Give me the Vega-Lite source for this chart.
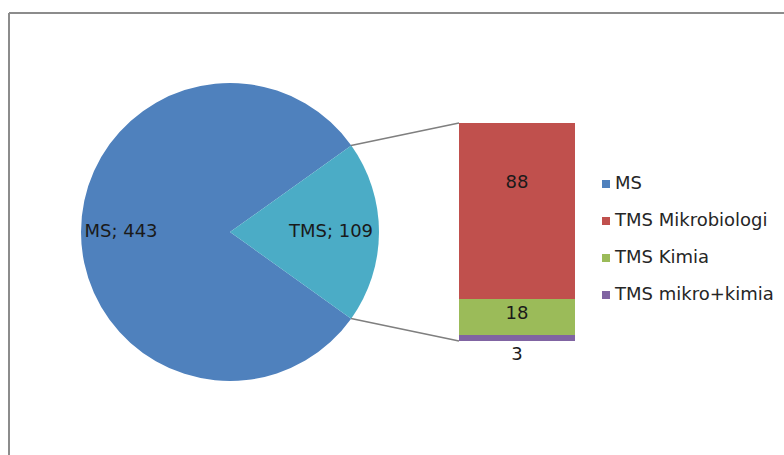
{
  "$schema": "https://vega.github.io/schema/vega-lite/v6.json",
  "width": 775,
  "height": 442,
  "padding": {"left": 9, "top": 13, "right": 0, "bottom": 0},
  "autosize": {"type": "none"},
  "background": "white",
  "config": {
    "view": {"stroke": null},
    "axis": {"disable": true},
    "font": "DejaVu Sans"
  },
  "layer": [
    {
      "data": {"values": [{}]},
      "mark": {"type": "rule", "color": "#8c8c8c", "strokeWidth": 2},
      "encoding": {
        "x": {"datum": 0, "type": "quantitative", "scale": {"domain": [0, 775], "nice": false, "zero": false}},
        "y": {"datum": -57, "type": "quantitative", "scale": {"domain": [-57, 164], "nice": false, "zero": false}},
        "y2": {"datum": 164}
      }
    },
    {
      "data": {"values": [{}]},
      "mark": {"type": "rule", "color": "#8c8c8c", "strokeWidth": 2},
      "encoding": {
        "x": {"datum": 0, "type": "quantitative"},
        "x2": {"datum": 775},
        "y": {"datum": 164, "type": "quantitative"}
      }
    },
    {
      "data": {"values": [{"category": "MS", "value": 443}, {"category": "TMS", "value": 109}]},
      "mark": {"type": "arc", "outerRadius": 149},
      "encoding": {
        "theta": {"field": "value", "type": "quantitative", "stack": true, "scale": {"range": [0.9512, 7.2344]}},
        "order": {"field": "category", "sort": "descending"},
        "color": {
          "field": "category", "type": "nominal",
          "scale": {
            "domain": ["MS", "TMS Mikrobiologi", "TMS Kimia", "TMS mikro+kimia", "TMS"],
            "range": ["#4F81BD", "#C0504D", "#9BBB59", "#8064A2", "#4BACC6"]
          },
          "legend": {
            "title": null, "orient": "none", "legendX": 588, "legendY": 162,
            "values": ["MS", "TMS Mikrobiologi", "TMS Kimia", "TMS mikro+kimia"],
            "symbolType": "square", "symbolSize": 64, "symbolStrokeWidth": 0,
            "labelFont": "DejaVu Sans", "labelFontSize": 18, "labelColor": "#262626",
            "labelOffset": 0, "rowPadding": 19, "padding": 0, "labelLimit": 300
          }
        },
        "x": {"datum": 221, "type": "quantitative"},
        "y": {"datum": 54.5, "type": "quantitative"}
      }
    },
    {
      "data": {"values": [{"category": "MS", "value": 443}, {"category": "TMS", "value": 109}]},
      "transform": [{"calculate": "datum.category + '; ' + datum.value", "as": "label"}],
      "mark": {"type": "text", "radius": 105, "dx": -4, "fontSize": 18, "color": "#1a1a1a", "font": "DejaVu Sans"},
      "encoding": {
        "theta": {"field": "value", "type": "quantitative", "stack": true},
        "order": {"field": "category", "sort": "descending"},
        "text": {"field": "label", "type": "nominal"},
        "x": {"datum": 221, "type": "quantitative"},
        "y": {"datum": 54.5, "type": "quantitative"}
      }
    },
    {
      "data": {"values": [{}]},
      "mark": {"type": "rule", "color": "#7f7f7f", "strokeWidth": 1.5},
      "encoding": {
        "x": {"datum": 342, "type": "quantitative"},
        "y": {"datum": 97.75, "type": "quantitative"},
        "x2": {"datum": 450},
        "y2": {"datum": 109}
      }
    },
    {
      "data": {"values": [{}]},
      "mark": {"type": "rule", "color": "#7f7f7f", "strokeWidth": 1.5},
      "encoding": {
        "x": {"datum": 342, "type": "quantitative"},
        "y": {"datum": 11.25, "type": "quantitative"},
        "x2": {"datum": 450},
        "y2": {"datum": 0}
      }
    },
    {
      "data": {"values": [
        {"category": "TMS Mikrobiologi", "value": 88},
        {"category": "TMS Kimia", "value": 18},
        {"category": "TMS mikro+kimia", "value": 3}
      ]},
      "transform": [
        {"stack": "value", "groupby": [], "sort": [{"field": "value", "order": "ascending"}], "as": ["v0", "v1"]}
      ],
      "mark": {"type": "rect"},
      "encoding": {
        "x": {"datum": 450, "type": "quantitative"},
        "x2": {"datum": 566},
        "y": {"field": "v0", "type": "quantitative"},
        "y2": {"field": "v1"},
        "color": {"field": "category", "type": "nominal"}
      }
    },
    {
      "data": {"values": [
        {"category": "TMS Mikrobiologi", "value": 88},
        {"category": "TMS Kimia", "value": 18},
        {"category": "TMS mikro+kimia", "value": 3}
      ]},
      "transform": [
        {"stack": "value", "groupby": [], "sort": [{"field": "value", "order": "ascending"}], "as": ["v0", "v1"]},
        {"filter": "datum.value >= 50"}
      ],
      "mark": {"type": "text", "fontSize": 18, "color": "#1a1a1a", "font": "DejaVu Sans", "dy": 60},
      "encoding": {
        "x": {"datum": 508, "type": "quantitative"},
        "y": {"field": "v1", "type": "quantitative"},
        "text": {"field": "value", "type": "quantitative"}
      }
    },
    {
      "data": {"values": [
        {"category": "TMS Mikrobiologi", "value": 88},
        {"category": "TMS Kimia", "value": 18},
        {"category": "TMS mikro+kimia", "value": 3}
      ]},
      "transform": [
        {"stack": "value", "groupby": [], "sort": [{"field": "value", "order": "ascending"}], "as": ["v0", "v1"]},
        {"filter": "datum.value >= 10 && datum.value < 50"}
      ],
      "mark": {"type": "text", "fontSize": 18, "color": "#1a1a1a", "font": "DejaVu Sans", "dy": 15},
      "encoding": {
        "x": {"datum": 508, "type": "quantitative"},
        "y": {"field": "v1", "type": "quantitative"},
        "text": {"field": "value", "type": "quantitative"}
      }
    },
    {
      "data": {"values": [
        {"category": "TMS Mikrobiologi", "value": 88},
        {"category": "TMS Kimia", "value": 18},
        {"category": "TMS mikro+kimia", "value": 3}
      ]},
      "transform": [
        {"stack": "value", "groupby": [], "sort": [{"field": "value", "order": "ascending"}], "as": ["v0", "v1"]},
        {"filter": "datum.value < 10"}
      ],
      "mark": {"type": "text", "fontSize": 18, "color": "#1a1a1a", "font": "DejaVu Sans", "baseline": "top", "dy": 5},
      "encoding": {
        "x": {"datum": 508, "type": "quantitative"},
        "y": {"field": "v0", "type": "quantitative"},
        "text": {"field": "value", "type": "quantitative"}
      }
    }
  ]
}
